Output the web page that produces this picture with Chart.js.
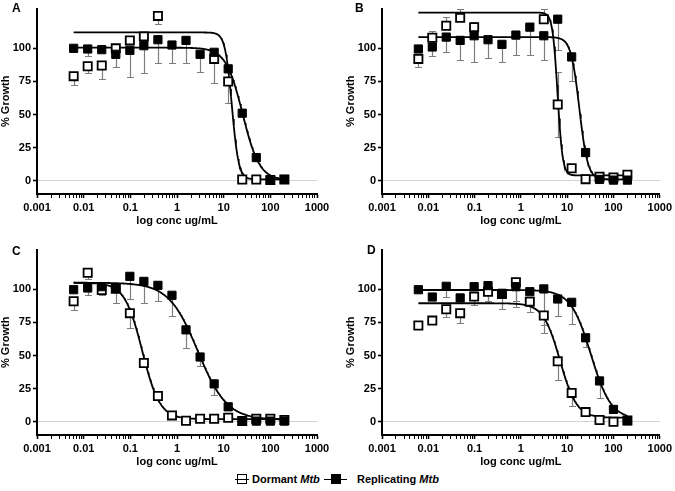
<!DOCTYPE html>
<html>
<head>
<meta charset="utf-8">
<script src="https://cdn.jsdelivr.net/npm/chart.js@4.4.1/dist/chart.umd.min.js"></script>
<style>
html,body{margin:0;padding:0;background:#fff;width:675px;height:491px;overflow:hidden;font-family:"Liberation Sans",Arial,sans-serif;}
.panel{position:absolute;}
.panel canvas{display:block;}
.letter{position:absolute;font:bold 12px/12px "Liberation Sans",Arial,sans-serif;color:#000;}
.sym{position:absolute;top:473px;height:12px;}
.sym .ln{position:absolute;left:0;right:0;top:5.5px;height:1.3px;background:#000;z-index:2;}
.sym .sq{position:absolute;top:1px;width:10px;height:10px;box-sizing:border-box;border:1.6px solid #000;z-index:1;}
.lt{position:absolute;top:472px;font:bold 11px/14px "Liberation Sans",Arial,sans-serif;color:#000;white-space:nowrap;}
</style>
</head>
<body>
<div class="panel" style="left:0;top:0"><canvas id="cA" width="337" height="230"></canvas></div>
<div class="panel" style="left:345px;top:0"><canvas id="cB" width="330" height="230"></canvas></div>
<div class="panel" style="left:0;top:241px"><canvas id="cC" width="337" height="230"></canvas></div>
<div class="panel" style="left:345px;top:241px"><canvas id="cD" width="330" height="230"></canvas></div>
<div class="letter" style="left:12px;top:2px">A</div>
<div class="letter" style="left:355px;top:2px">B</div>
<div class="letter" style="left:12px;top:245px">C</div>
<div class="letter" style="left:367px;top:244px">D</div>

<span class="sym" style="left:235px;width:14px"><span class="ln"></span><span class="sq" style="left:2px;background:#fff"></span></span>
<span class="lt" style="left:252px">Dormant <i>Mtb</i></span>
<span class="sym" style="left:324px;width:23px"><span class="ln"></span><span class="sq" style="left:6.5px;background:#000"></span></span>
<span class="lt" style="left:357px">Replicating <i>Mtb</i></span>

<script>
// ---- shared axes ----
const conc = [0.0061, 0.0122, 0.0244, 0.0488, 0.0977, 0.195, 0.39, 0.78, 1.56, 3.125, 6.25, 12.5, 25, 50, 100, 200];
const xMajorTicks = [0.001, 0.01, 0.1, 1, 10, 100, 1000];
const xTickLabels = ['0.001', '0.01', '0.1', '1', '10', '100', '1000'];
const yTicks = [0, 25, 50, 75, 100];
const xTitle = 'log conc ug/mL';
const yTitle = '% Growth';

// ---- Panel A ----
const aDormant        = [79, 86.5, 87, 100, 106, 109, 124.5, null, null, null, 92, 75, 1, 1, 0.5, 1];
const aDormantErr     = [72, 81, 77, null, null, null, 118, null, null, null, 74, 58.5, null, null, null, null];
const aReplicating    = [100, 99.5, 99, 95.5, 98.5, 102, 106.5, 102.5, 106, 95.5, 97, 84.5, 51, 17.5, 0.5, 1];
const aReplicatingErr = [null, 94, null, 86, 78, 81, 89, 89, 89, 82, null, null, null, null, null, null];
const aDormantFit     = [112, 1, 15, 6];      // top, bottom, EC50, Hill
const aReplicatingFit = [100.5, 0.5, 25.5, 2.4];

// ---- Panel B ----
const bDormant        = [92, 108, 117, 123, 116, null, null, null, null, 122, 57.6, 9.5, 1.2, 3, 2.5, 4.5];
const bDormantErr     = [86, 113, 124, 130, 120, null, null, null, null, 130, [33, 82], 12.5, null, null, null, null];
const bReplicating    = [99.5, 101, 108.5, 106, 109.5, 106.5, 103, 110, 116, 109.5, 122, 93.5, 21.3, 1, 0.5, 0.5];
const bReplicatingErr = [null, 94, 97, 91, 90, 93, 89.5, 95, 95, 91.5, 99, 75, null, null, null, null];
const bDormantFit     = [127, 4, 6.2, 8];
const bReplicatingFit = [108.5, 1, 18.3, 4.75];

// ---- Panel C ----
const cDormant        = [91, 112.5, 99.5, 100.5, 82, 44.4, 19.5, 4.8, 0.8, 2.3, 2.3, 3, 0.5, 2.3, 2.3, 1.3];
const cDormantErr     = [84.7, 108, 96, null, 71, null, null, null, null, null, null, null, null, null, null, null];
const cReplicating    = [99.7, 101, 102, 101, 109.8, 106, 103, 95.5, 69.4, 48.9, 28.6, 11.3, 0.5, 0.5, 0.5, 0.5];
const cReplicatingErr = [null, 96, null, 89.5, 93, 90, 91.5, 80, 55.6, 42, 20.3, null, null, null, null, null];
const cDormantFit     = [105, 2, 0.18, 2.3];
const cReplicatingFit = [105, 1.5, 2.8, 1.4];

// ---- Panel D ----
const dDormant        = [72.7, 76.4, 85, 82, 94.5, 98.2, 96.5, 105.3, 90.7, 80.2, 45.6, 21.8, 7.3, 1.3, 0, 1];
const dDormantErr     = [null, null, 79, 74.4, 88.5, 90, null, 91.5, 83, 67.4, 31.8, 11.8, null, null, null, null];
const dReplicating    = [99.7, 94.2, 102.3, 93.5, 102, 102.8, 97, 102, 98.2, 100.3, 92.7, 90.2, 63.4, 30.8, 9.3, 0.8];
const dReplicatingErr = [null, null, 94, 89.5, null, 91, 85, 87, null, 73, 80, 74, 56.4, 18.3, null, null];
const dDormantFit     = [89.5, 3, 7, 2.4];
const dReplicatingFit = [99.5, 2, 32.6, 2.0];

Chart.defaults.font.family = "'Liberation Sans', Arial, sans-serif";
Chart.defaults.color = '#000';

function pts(vals) { return conc.map((x, i) => ({ x: x, y: vals[i] })); }

function fitCurve(fit) {
  const [top, bottom, ec50, hill] = fit;
  const lo = Math.log10(conc[0]), hi = Math.log10(conc[conc.length - 1]);
  const out = [];
  const n = 300;
  for (let i = 0; i <= n; i++) {
    const x = Math.pow(10, lo + (hi - lo) * i / n);
    out.push({ x: x, y: bottom + (top - bottom) / (1 + Math.pow(x / ec50, hill)) });
  }
  return out;
}

function errPlugin(series) {
  return {
    id: 'errbars',
    beforeDatasetsDraw(chart) {
      const { ctx, chartArea } = chart;
      const xs = chart.scales.x, ys = chart.scales.y;
      ctx.save();
      ctx.beginPath();
      ctx.rect(chartArea.left, chartArea.top - 2, chartArea.width, chartArea.height + 2);
      ctx.clip();
      ctx.strokeStyle = '#7d7d7d';
      ctx.lineWidth = 1.2;
      series.forEach(s => {
        s.vals.forEach((v, i) => {
          const t = s.tips[i];
          if (v == null || t == null) return;
          const tips = Array.isArray(t) ? t : [t];
          const px = Math.round(xs.getPixelForValue(conc[i])) + 0.5;
          const py = ys.getPixelForValue(v);
          tips.forEach(tv => {
            const ty = Math.round(ys.getPixelForValue(tv)) + 0.5;
            ctx.beginPath();
            ctx.moveTo(px, py);
            ctx.lineTo(px, ty);
            ctx.moveTo(px - 3.5, ty);
            ctx.lineTo(px + 3.5, ty);
            ctx.stroke();
          });
        });
      });
      ctx.restore();
    }
  };
}

const tickFont = { size: 11, weight: 'bold' };

function makeChart(id, padRight, dorm, dormErr, rep, repErr, dormFit, repFit) {
  new Chart(document.getElementById(id), {
    type: 'scatter',
    data: {
      datasets: [
        { label: 'Replicating Mtb', data: pts(rep), pointStyle: 'rect', pointRadius: 5.8, pointHoverRadius: 5.8,
          backgroundColor: '#000', borderColor: '#000', borderWidth: 1, order: 0 },
        { label: 'Dormant Mtb', data: pts(dorm), pointStyle: 'rect', pointRadius: 5.8, pointHoverRadius: 5.8,
          backgroundColor: '#fff', borderColor: '#000', borderWidth: 1.8, order: 1 },
        { label: 'Replicating fit', type: 'line', data: fitCurve(repFit), showLine: true, pointRadius: 0,
          borderColor: '#000', borderWidth: 1.8, fill: false, tension: 0, order: 2 },
        { label: 'Dormant fit', type: 'line', data: fitCurve(dormFit), showLine: true, pointRadius: 0,
          borderColor: '#000', borderWidth: 1.8, fill: false, tension: 0, order: 3 }
      ]
    },
    options: {
      responsive: false,
      animation: false,
      devicePixelRatio: 1,
      layout: { padding: { top: 7, right: padRight, left: 0, bottom: 0 } },
      plugins: { legend: { display: false }, tooltip: { enabled: false } },
      scales: {
        x: {
          type: 'logarithmic', min: 0.001, max: 1000,
          afterBuildTicks: s => {
            const t = [];
            for (let k = 0; k < xMajorTicks.length - 1; k++) {
              t.push({ value: xMajorTicks[k], major: true });
              for (let d = 2; d <= 9; d++) t.push({ value: xMajorTicks[k] * d });
            }
            t.push({ value: xMajorTicks[xMajorTicks.length - 1], major: true });
            s.ticks = t;
          },
          afterFit: s => { s.height = 36; },
          border: { display: true, color: '#000', width: 2 },
          grid: { display: true, drawOnChartArea: false, drawTicks: true, tickLength: 4, tickColor: '#000',
                  tickWidth: c => (c.tick && xMajorTicks.indexOf(c.tick.value) >= 0) ? 1.6 : 1 },
          ticks: { autoSkip: false, maxRotation: 0, minRotation: 0, padding: 3, color: '#000', font: tickFont,
                   callback: v => { const i = xMajorTicks.indexOf(v); return i >= 0 ? xTickLabels[i] : ''; } },
          title: { display: true, text: xTitle, color: '#000', font: { size: 11, weight: 'bold', lineHeight: 1.2 },
                   padding: { top: 0, bottom: 2.5 } }
        },
        y: {
          type: 'linear', min: -10, max: 130,
          afterBuildTicks: s => { s.ticks = yTicks.map(v => ({ value: v })); },
          afterFit: s => { s.width = 37; },
          border: { display: true, color: '#000', width: 2 },
          grid: { display: true, drawOnChartArea: true, drawTicks: true, tickLength: 4, tickColor: '#000', tickWidth: 1.6,
                  lineWidth: 1, color: c => (c.tick && c.tick.value === 0) ? '#d2d2d2' : 'rgba(0,0,0,0)' },
          ticks: { padding: 2, color: '#000', font: tickFont },
          title: { display: true, text: yTitle, color: '#000', font: { size: 11, weight: 'bold', lineHeight: 1 },
                   padding: { top: 0, bottom: 0 } }
        }
      }
    },
    plugins: [errPlugin([{ vals: dorm, tips: dormErr }, { vals: rep, tips: repErr }])]
  });
}

makeChart('cA', 20, aDormant, aDormantErr, aReplicating, aReplicatingErr, aDormantFit, aReplicatingFit);
makeChart('cB', 13, bDormant, bDormantErr, bReplicating, bReplicatingErr, bDormantFit, bReplicatingFit);
makeChart('cC', 20, cDormant, cDormantErr, cReplicating, cReplicatingErr, cDormantFit, cReplicatingFit);
makeChart('cD', 13, dDormant, dDormantErr, dReplicating, dReplicatingErr, dDormantFit, dReplicatingFit);
</script>
</body>
</html>
